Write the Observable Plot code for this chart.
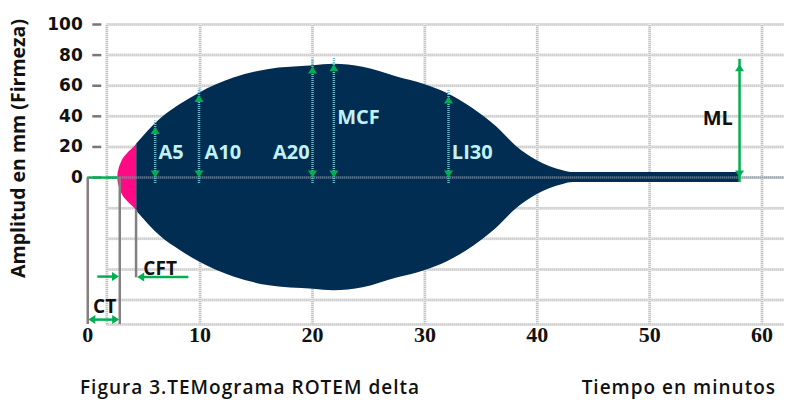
<!DOCTYPE html>
<html>
<head>
<meta charset="utf-8">
<script src="https://cdn.jsdelivr.net/npm/d3@7"></script>
<script src="https://cdn.jsdelivr.net/npm/@observablehq/plot@0.6"></script>
<style>
  body { margin: 0; background: #fff; }
  #chart svg { display: block; }
  #caption { position: relative; width: 800px; height: 60px; font-family: "Open Sans", sans-serif; font-weight: 600; font-size: 19px; letter-spacing: 1px; color: #111; }
  #caption span { position: absolute; top: 14px; white-space: nowrap; }
</style>
</head>
<body>
<div id="chart"></div>
<div id="caption"><span style="left:80px">Figura 3.TEMograma ROTEM delta</span><span style="right:24px">Tiempo en minutos</span></div>
<script>
// ---- data ----
const xTicks = [0, 10, 20, 30, 40, 50, 60];
const yTicks = [0, 20, 40, 60, 80, 100];
const gridYValues = [-96, -80, -60, -40, -20, 0, 20, 40, 60, 80, 100];
const gridXValues = [1.7, 10, 20, 30, 40, 50, 60];

// clot-formation phase (pink), time in minutes, amplitude in mm
const pinkTime = [2.67, 2.7, 2.77, 2.95, 3.55, 4.1, 4.36];
const pinkAmp  = [0, 2.5, 5, 9, 15.7, 19.6, 22];
// main trace (navy)
const navyTime = [4.36, 6.5, 8.2, 9.9, 13.0, 16.0, 20.1, 21.9, 24.5, 27.6, 29.9, 32.0, 34.3, 36.4, 38.2, 40.0, 42.3, 43.2, 58];
const navyAmp  = [22, 38.5, 47.5, 55, 65, 70.5, 73, 74, 72, 65.5, 61, 55, 45, 33, 20, 11, 4.5, 3.3, 3.3];

// amplitude markers
const markerNames = ["A5", "A10", "A20", "MCF", "LI30"];
const markerTime  = [6.0, 9.9, 20.0, 21.9, 32.1];
const markerTop   = [33, 54, 72.5, 74, 53];
const markerLabelX = [6.3, 10.4, 19.75, 22.2, 32.4];
const markerLabelY = [16, 16, 16, 39, 16];
const markerAnchor = ["start", "start", "end", "start", "start"];

// ML
const mlTime = 58, mlTop = 74;

// CT / CFT
const ctTime = 2.85, cftTime = 4.3;
const ctLabelPos = [1.5, -84.5];
const cftLabelPos = [4.95, -59.5];

// ---- styles ----
const NAVY = "#012d52", PINK = "#ff0a84", GREEN = "#00b050", GREY = "#857f80";
const FONT = "Open Sans, sans-serif";

const pinkData = pinkTime.map((t, i) => ({t, a: pinkAmp[i]}));
const navyData = navyTime.map((t, i) => ({t, a: navyAmp[i]}));
const markers = markerNames.map((name, i) => ({name, t: markerTime[i], top: markerTop[i], lx: markerLabelX[i], ly: markerLabelY[i], anchor: markerAnchor[i]}));

// custom triangle symbols with tip at the anchor point
const tri = (dir) => ({draw(ctx) {
  const w = 4.5, h = 7;
  ctx.moveTo(0, 0);
  if (dir === "up") { ctx.lineTo(-w, h); ctx.lineTo(w, h); }
  if (dir === "down") { ctx.lineTo(-w, -h); ctx.lineTo(w, -h); }
  if (dir === "right") { ctx.lineTo(-h, -w); ctx.lineTo(-h, w); }
  if (dir === "left") { ctx.lineTo(h, -w); ctx.lineTo(h, w); }
  ctx.closePath();
}});

const gridLine = {stroke: "#c2c2c2", strokeWidth: 2.5, strokeDasharray: "1 1"};
const labelStyle = {fill: "#c2f1f7", fontSize: 20, fontWeight: "bold"};

const chart = Plot.plot({
  width: 800,
  height: 360,
  marginLeft: 76,
  marginRight: 16,
  marginTop: 24,
  marginBottom: 36,
  x: {domain: [-1, 62], axis: null},
  y: {domain: [-96, 100], axis: null},
  style: {fontFamily: FONT, background: "#fff"},
  marks: [
    // grid
    Plot.ruleY(gridYValues, {x1: 1.7, x2: 62, ...gridLine, stroke: "#ebebeb", strokeDasharray: null, strokeWidth: 3}),
    Plot.ruleY(gridYValues, {x1: 1.7, x2: 62, ...gridLine}),
    Plot.ruleX(gridXValues, {y1: -96, y2: 100, ...gridLine, stroke: "#ebebeb", strokeDasharray: null, strokeWidth: 3}),
    Plot.ruleX(gridXValues, {y1: -96, y2: 100, ...gridLine}),
    // y ticks and labels
    Plot.ruleY(yTicks, {x1: 0.45, x2: 1.25, stroke: "#777", strokeWidth: 2.5}),
    Plot.text(yTicks, {x: 0.45, y: d => d, text: d => String(d), textAnchor: "end", dx: -10, fontFamily: "DejaVu Sans", fontSize: 17, fontWeight: "bold", fill: "#111"}),
    // x tick labels
    Plot.text(xTicks, {x: d => d, frameAnchor: "bottom", dy: 17, text: d => String(d), fontFamily: "Liberation Sans Narrow", fontSize: 22, fontWeight: "bold", fill: "#111"}),
    // y axis title
    Plot.text(["Amplitud en mm (Firmeza)"], {x: -6.1, y: 19, rotate: -90, fontSize: 19.5, fontWeight: "bold", fill: "#111"}),
    // trace
    Plot.areaY(pinkData, {x: "t", y1: d => -d.a, y2: "a", fill: PINK, curve: "monotone-x"}),
    Plot.areaY(navyData, {x: "t", y1: d => -d.a, y2: "a", fill: NAVY, curve: "monotone-x"}),
    // zero line over the trace
    Plot.ruleY([0], {x1: 1.7, x2: 62, stroke: "#8593a3", strokeWidth: 2.5, strokeDasharray: "1 1"}),
    // amplitude markers
    Plot.ruleX(markers, {x: "t", y1: 0, y2: "top", stroke: "#6fb8c9", strokeWidth: 2.5, strokeDasharray: "1 1", insetTop: 6, insetBottom: 6}),
    Plot.dot(markers, {x: "t", y: "top", symbol: tri("up"), fill: GREEN, stroke: null}),
    Plot.dot(markers, {x: "t", y: 0, symbol: tri("down"), fill: GREEN, stroke: null}),
    Plot.text(markers.filter(d => d.anchor === "start"), {x: "lx", y: "ly", text: "name", textAnchor: "start", ...labelStyle}),
    Plot.text(markers.filter(d => d.anchor === "end"), {x: "lx", y: "ly", text: "name", textAnchor: "end", ...labelStyle}),
    // ML
    Plot.ruleX([mlTime], {y1: 0, y2: mlTop, stroke: GREEN, strokeWidth: 2.5, insetTop: 5, insetBottom: 5}),
    Plot.dot([mlTime], {x: d => d, y: mlTop, symbol: tri("up"), fill: GREEN, stroke: null}),
    Plot.dot([mlTime], {x: d => d, y: 0, symbol: tri("down"), fill: GREEN, stroke: null}),
    Plot.text(["ML"], {x: 57.4, y: 38.5, textAnchor: "end", fontSize: 20, fontWeight: "bold", fill: "#111"}),
    // CT / CFT guides
    Plot.ruleY([0], {x1: 0, x2: 2.67, stroke: GREEN, strokeWidth: 2.5}),
    Plot.ruleX([0, ctTime], {y1: 0, y2: -96, stroke: GREY, strokeWidth: 2.5}),
    Plot.ruleX([cftTime], {y1: -21.5, y2: -65.5, stroke: GREY, strokeWidth: 2.5}),
    Plot.ruleY([-64.7], {x1: 0.9, x2: 2.5, stroke: GREEN, strokeWidth: 2.5}),
    Plot.dot([-64.7], {x: 2.78, y: d => d, symbol: tri("right"), fill: GREEN, stroke: null}),
    Plot.ruleY([-64.9], {x1: 4.7, x2: 9.0, stroke: GREEN, strokeWidth: 2.5}),
    Plot.dot([-64.9], {x: 4.4, y: d => d, symbol: tri("left"), fill: GREEN, stroke: null}),
    Plot.text(["CFT"], {x: cftLabelPos[0], y: cftLabelPos[1], textAnchor: "start", fontSize: 19, fontWeight: "bold", fill: "#111"}),
    Plot.ruleY([-92.8], {x1: 0.3, x2: 2.55, stroke: GREEN, strokeWidth: 2.5}),
    Plot.dot([-92.8], {x: 0.05, y: d => d, symbol: tri("left"), fill: GREEN, stroke: null}),
    Plot.dot([-92.8], {x: 2.8, y: d => d, symbol: tri("right"), fill: GREEN, stroke: null}),
    Plot.text(["CT"], {x: ctLabelPos[0], y: ctLabelPos[1], fontSize: 19, fontWeight: "bold", fill: "#111"})
  ]
});
document.getElementById("chart").appendChild(chart);
</script>
</body>
</html>
